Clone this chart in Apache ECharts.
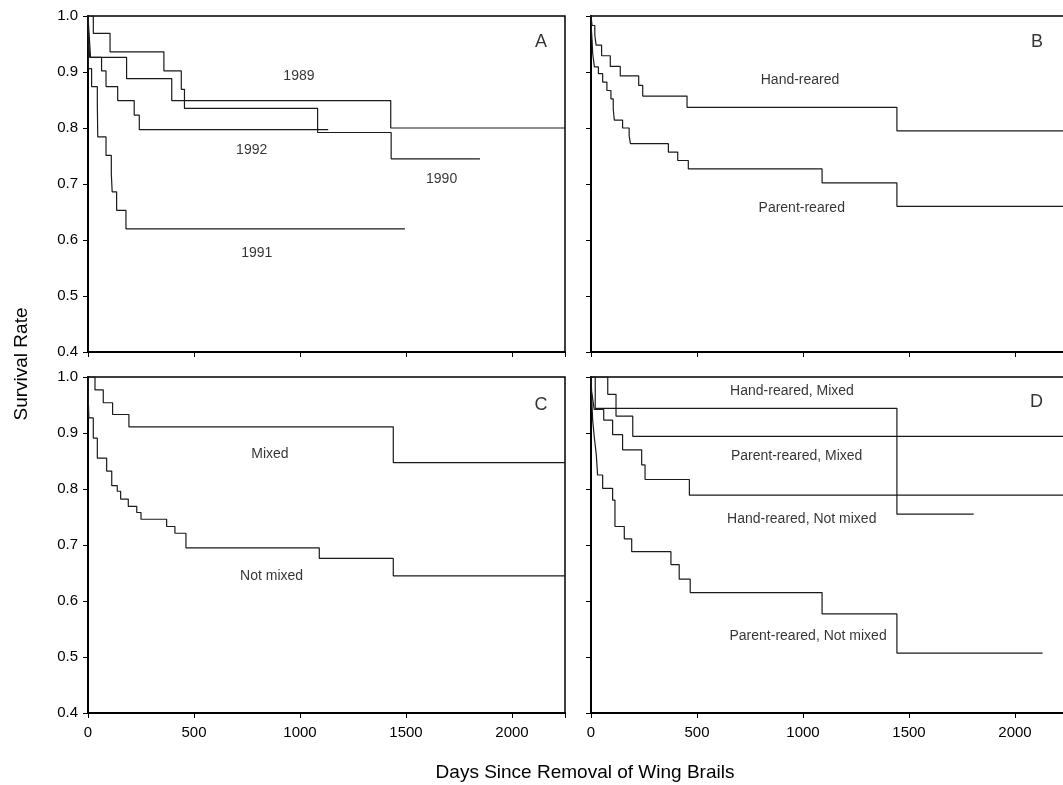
<!DOCTYPE html>
<html><head><meta charset="utf-8">
<script src="https://cdn.jsdelivr.net/npm/echarts/dist/echarts.min.js"></script>
<style>html,body{margin:0;padding:0;background:#fff;overflow:hidden}#c{width:1080px;height:785px}</style>
</head><body><div id="c"></div>
<script>
// ---- Data (days since removal of wing brails, survival rate) ----
const days1989 = [0, 6, 12, 182, 395, 1428, 2250];
const surv1989 = [1.0, 0.963, 0.926, 0.888, 0.849, 0.800, 0.800];
const days1990 = [0, 25, 104, 358, 440, 455, 1083, 1430, 1849];
const surv1990 = [1.0, 0.969, 0.936, 0.902, 0.869, 0.835, 0.792, 0.745, 0.745];
const days1991 = [0, 1, 2, 17, 44, 46, 85, 110, 114, 135, 179, 1495];
const surv1991 = [1.0, 0.953, 0.906, 0.874, 0.843, 0.784, 0.751, 0.718, 0.686, 0.653, 0.620, 0.620];
const days1992 = [0, 3, 8, 64, 85, 140, 218, 242, 1133];
const surv1992 = [1.0, 0.963, 0.926, 0.902, 0.874, 0.849, 0.823, 0.797, 0.797];

const daysHand = [0, 5, 18, 24, 50, 91, 138, 225, 244, 453, 1443, 2250];
const survHand = [1.0, 0.983, 0.966, 0.948, 0.929, 0.910, 0.893, 0.876, 0.857, 0.837, 0.795, 0.795];
const daysParent = [0, 2, 5, 8, 16, 35, 55, 75, 94, 105, 110, 149, 180, 186, 365, 409, 459, 1090, 1443, 2250];
const survParent = [1.0, 0.976, 0.957, 0.933, 0.909, 0.897, 0.882, 0.867, 0.852, 0.833, 0.814, 0.800, 0.786, 0.772, 0.757, 0.742, 0.727, 0.702, 0.660, 0.660];

const daysMixed = [0, 33, 72, 116, 193, 1440, 2250];
const survMixed = [1.0, 0.977, 0.954, 0.933, 0.911, 0.847, 0.847];
const daysNotMixed = [0, 1, 2, 4, 25, 44, 88, 112, 138, 154, 190, 230, 250, 371, 410, 462, 1091, 1440, 2250];
const survNotMixed = [1.0, 0.976, 0.952, 0.927, 0.891, 0.855, 0.832, 0.806, 0.796, 0.782, 0.769, 0.758, 0.746, 0.733, 0.721, 0.695, 0.676, 0.645, 0.645];

const daysHandMixed = [0, 20, 1443, 1805];
const survHandMixed = [1.0, 0.944, 0.755, 0.755];
const daysParentMixed = [0, 79, 118, 197, 2250];
const survParentMixed = [1.0, 0.969, 0.930, 0.894, 0.894];
const daysHandNotMixed = [0, 3, 8, 15, 60, 102, 149, 239, 255, 464, 2250];
const survHandNotMixed = [1.0, 0.974, 0.961, 0.942, 0.923, 0.897, 0.870, 0.843, 0.817, 0.789, 0.789];
const daysParentNotMixed = [0, 2, 5, 8, 16, 25, 31, 55, 102, 113, 157, 192, 377, 416, 468, 1090, 1443, 2130];
const survParentNotMixed = [1.0, 0.974, 0.948, 0.922, 0.891, 0.861, 0.825, 0.801, 0.780, 0.733, 0.711, 0.688, 0.665, 0.639, 0.615, 0.577, 0.507, 0.507];

const xTicks = [0, 500, 1000, 1500, 2000];
const yTicks = [0.4, 0.5, 0.6, 0.7, 0.8, 0.9, 1.0];
const panelLetters = ['A', 'B', 'C', 'D'];

// ---- Build ----
const zip = (d, s) => d.map((v, i) => [v, s[i]]);
const FONT = 'Liberation Sans, Arial, sans-serif';
const curves = [
  [0, days1989, surv1989], [0, days1990, surv1990], [0, days1991, surv1991], [0, days1992, surv1992],
  [1, daysHand, survHand], [1, daysParent, survParent],
  [2, daysMixed, survMixed], [2, daysNotMixed, survNotMixed],
  [3, daysHandMixed, survHandMixed], [3, daysParentMixed, survParentMixed],
  [3, daysHandNotMixed, survHandNotMixed], [3, daysParentNotMixed, survParentNotMixed]
];
// annotation anchors in data units: [panel, text, day, survival]
const notes = [
  [0, '1989', 995, 0.892], [0, '1992', 772, 0.761], [0, '1990', 1668, 0.708], [0, '1991', 796, 0.576],
  [1, 'Hand-reared', 986, 0.885], [1, 'Parent-reared', 994, 0.656],
  [2, 'Mixed', 858, 0.862], [2, 'Not mixed', 866, 0.645],
  [3, 'Hand-reared, Mixed', 948, 0.974], [3, 'Parent-reared, Mixed', 970, 0.859],
  [3, 'Hand-reared, Not mixed', 994, 0.746], [3, 'Parent-reared, Not mixed', 1024, 0.537]
];
const letterPos = [[2137, 0.953], [2104, 0.953], [2137, 0.95], [2102, 0.956]];

const grids = [
  {left: 88, top: 16, width: 477, height: 336},
  {left: 591, top: 16, width: 477, height: 336},
  {left: 88, top: 377, width: 477, height: 336},
  {left: 591, top: 377, width: 477, height: 336}
].map(g => Object.assign(g, {show: true, borderColor: '#000', borderWidth: 1.5, backgroundColor: 'transparent',
  containLabel: false, outerBoundsMode: 'none'}));

const xAxes = [0, 1, 2, 3].map(i => ({
  type: 'value', gridIndex: i, min: 0, max: 2250, interval: 500,
  splitLine: {show: false},
  axisLine: {onZero: false, lineStyle: {color: '#000', width: 2}},
  axisTick: {show: true, inside: false, length: 5, lineStyle: {color: '#000', width: 1}},
  axisLabel: {show: i >= 2, color: '#000', fontSize: 15, fontFamily: FONT, margin: 12,
    formatter: v => xTicks.includes(v) ? String(v) : ''}
}));
const yAxes = [0, 1, 2, 3].map(i => ({
  type: 'value', gridIndex: i, min: 0.4, max: 1.0, interval: 0.1,
  splitLine: {show: false},
  axisLine: {onZero: false, lineStyle: {color: '#000', width: 2}},
  axisTick: {show: true, inside: false, length: 5, lineStyle: {color: '#000', width: 1}},
  axisLabel: {show: i % 2 === 0, color: '#000', fontSize: 15, fontFamily: FONT, margin: 10,
    formatter: v => {const t = yTicks.find(k => Math.abs(k - v) < 1e-6); return t === undefined ? '' : t.toFixed(1);}}
}));

const series = curves.map(([p, d, s]) => ({
  type: 'line', xAxisIndex: p, yAxisIndex: p, step: 'end', symbol: 'none', silent: true,
  lineStyle: {color: '#1a1a1a', width: 1.2}, data: zip(d, s), animation: false
}));
[0, 1, 2, 3].forEach(p => {
  const items = notes.filter(n => n[0] === p).map(n => ({name: n[1], value: [n[2], n[3]]}));
  items.push({name: panelLetters[p], value: letterPos[p], label: {fontSize: 18}});
  series.push({
    type: 'scatter', xAxisIndex: p, yAxisIndex: p, symbolSize: 1, silent: true, animation: false,
    itemStyle: {color: 'rgba(0,0,0,0)'},
    label: {show: true, position: 'inside', formatter: '{b}', color: '#000', fontSize: 14, fontFamily: FONT,
      align: 'center', verticalAlign: 'middle'},
    data: items
  });
});

const chart = echarts.init(document.getElementById('c'), null, {renderer: 'canvas'});
chart.setOption({
  animation: false,
  backgroundColor: '#fff',
  grid: grids, xAxis: xAxes, yAxis: yAxes, series: series,
  graphic: [
    {type: 'text', x: 22, y: 364, rotation: Math.PI / 2,
      style: {text: 'Survival Rate', font: '19px ' + FONT, fill: '#000', align: 'center', verticalAlign: 'middle'}},
    {type: 'text', x: 585, y: 773,
      style: {text: 'Days Since Removal of Wing Brails', font: '19px ' + FONT, fill: '#000', align: 'center', verticalAlign: 'middle'}}
  ]
});
</script></body></html>
